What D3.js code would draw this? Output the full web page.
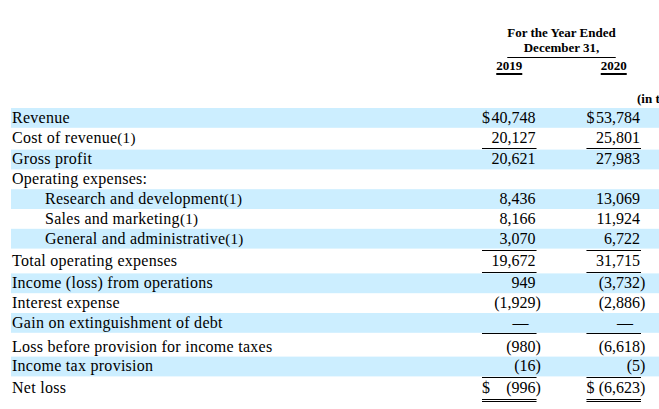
<!DOCTYPE html>
<html>
<head>
<meta charset="utf-8">
<script src="https://cdn.jsdelivr.net/npm/d3@7"></script>
<style>
  body { margin: 0; background: #fff; }
  svg { display: block; font-family: "Liberation Serif", "Times New Roman", serif; }
</style>
</head>
<body>
<div id="chart"></div>
<script>
// statement lines, (1) marks the footnote
const labels = [
  'Revenue',
  'Cost of revenue(1)',
  'Gross profit',
  'Operating expenses:',
  'Research and development(1)',
  'Sales and marketing(1)',
  'General and administrative(1)',
  'Total operating expenses',
  'Income (loss) from operations',
  'Interest expense',
  'Gain on extinguishment of debt',
  'Loss before provision for income taxes',
  'Income tax provision',
  'Net loss'
];

const years = ['2019', '2020'];

// in thousands, null = no value, 0 = dash
const values2019 = [40748, 20127, 20621, null, 8436, 8166, 3070, 19672, 949, -1929, 0, -980, -16, -996];
const values2020 = [53784, 25801, 27983, null, 13069, 11924, 6722, 31715, -3732, -2886, 0, -6618, -5, -6623];

const headerLines = ['For the Year Ended', 'December 31,'];
const unitsNote = '(in thousands)';

// layout
const width = 659, height = 409;
const top0 = 108, rowH = 19.8;
const indentRows = [4, 5, 6];
const dollarRows = [0, 13];
const extraTop = {7: 3, 11: 2};
const extraBottom = {1: 2, 7: 2, 10: 2, 12: 2};
const ruleAbove = [7];
const ruleBelow = {1: 1, 7: 1, 10: 1, 12: 1, 13: 2};

const x = d3.scaleBand()
  .domain(years)
  .range([482, 641])
  .paddingInner(0.478);

const colValues = {'2019': values2019, '2020': values2020};
const fmt = d3.format(',');

let yy = top0;
const rows = labels.map((label, i) => {
  yy += extraTop[i] || 0;
  const top = yy;
  yy += rowH;
  const bottom = yy;
  yy += extraBottom[i] || 0;
  const m = label.match(/^(.*?)(\(1\))?$/);
  return {i, text: m[1], note: m[2] || '', top, bottom};
});

const svg = d3.select('#chart').append('svg')
  .attr('width', width)
  .attr('height', height);

// header
const header = svg.append('g').attr('class', 'header')
  .attr('font-weight', 'bold')
  .attr('font-size', 13)
  .attr('fill', '#000');

const mid = (x.range()[0] + x.range()[1]) / 2;
const hl = header.selectAll('.hline').data(headerLines).enter().append('text')
  .attr('class', 'hline')
  .attr('x', mid)
  .attr('y', (d, i) => 37 + i * 15)
  .attr('text-anchor', 'middle')
  .text(d => d);

const hw = hl.node().getComputedTextLength();
header.append('line')
  .attr('x1', mid - hw / 2).attr('x2', mid + hw / 2)
  .attr('y1', 57.5).attr('y2', 57.5)
  .attr('stroke', '#000');

const yr = header.selectAll('.year').data(years).enter().append('g')
  .attr('class', 'year');
yr.append('text')
  .attr('x', d => x(d) + x.bandwidth() / 2)
  .attr('y', 70)
  .attr('text-anchor', 'middle')
  .text(d => d);
yr.each(function(d) {
  const w = d3.select(this).select('text').node().getComputedTextLength();
  d3.select(this).append('rect')
    .attr('x', x(d) + x.bandwidth() / 2 - w / 2)
    .attr('y', 73)
    .attr('width', w)
    .attr('height', 2)
    .attr('fill', '#000');
});

// units note runs off the right edge, as in the source
header.append('text')
  .attr('x', 637)
  .attr('y', 103)
  .text(unitsNote);

// row shading
svg.append('g').attr('class', 'bands')
  .selectAll('rect').data(rows.filter(r => r.i % 2 === 0)).enter().append('rect')
  .attr('x', 11)
  .attr('y', r => r.top)
  .attr('width', width - 11)
  .attr('height', r => r.bottom - r.top)
  .attr('fill', '#cceeff');

// labels
const lab = svg.append('g').attr('class', 'labels')
  .attr('font-size', 16)
  .attr('letter-spacing', 0.27)
  .attr('fill', '#000')
  .selectAll('text').data(rows).enter().append('text')
  .attr('x', r => indentRows.includes(r.i) ? 45 : 12)
  .attr('y', r => r.bottom - 5);
lab.append('tspan').text(r => r.text);
lab.filter(r => r.note).append('tspan')
  .attr('font-size', 15)
  .text(r => r.note);

// values
const cells = svg.append('g').attr('class', 'values')
  .attr('font-size', 16)
  .attr('fill', '#000');

years.forEach(year => {
  const right = x(year) + x.bandwidth() - 1;
  const col = cells.append('g').attr('class', 'col col-' + year);
  const data = rows.filter(r => colValues[year][r.i] !== null);

  const cell = col.selectAll('g').data(data).enter().append('g');

  cell.filter(r => colValues[year][r.i] === 0).append('text')
    .attr('x', right - 7)
    .attr('y', r => r.bottom - 5)
    .attr('text-anchor', 'end')
    .text('\u2014');

  const num = cell.filter(r => colValues[year][r.i] !== 0);
  num.append('text')
    .attr('x', right)
    .attr('y', r => r.bottom - 5)
    .attr('text-anchor', 'end')
    .text(r => {
      const v = colValues[year][r.i];
      return (v < 0 ? '(' : '') + fmt(Math.abs(v));
    });
  num.filter(r => colValues[year][r.i] < 0).append('text')
    .attr('x', right)
    .attr('y', r => r.bottom - 5)
    .text(')');
  num.filter(r => dollarRows.includes(r.i)).append('text')
    .attr('x', x(year))
    .attr('y', r => r.bottom - 5)
    .text('$');

  // rules
  const rules = col.append('g').attr('stroke', '#000');
  const x1 = x(year), x2 = x(year) + x.bandwidth();
  rows.forEach(r => {
    if (ruleAbove.includes(r.i)) {
      const y = Math.floor(r.top - 1.6) + 0.5;
      rules.append('line').attr('x1', x1).attr('x2', x2).attr('y1', y).attr('y2', y);
    }
    const n = ruleBelow[r.i];
    for (let k = 0; k < (n || 0); k++) {
      const y = Math.floor(r.bottom + 1) + 0.5 + k * 2;
      rules.append('line').attr('x1', x1).attr('x2', x2).attr('y1', y).attr('y2', y);
    }
  });
});
</script>
</body>
</html>
